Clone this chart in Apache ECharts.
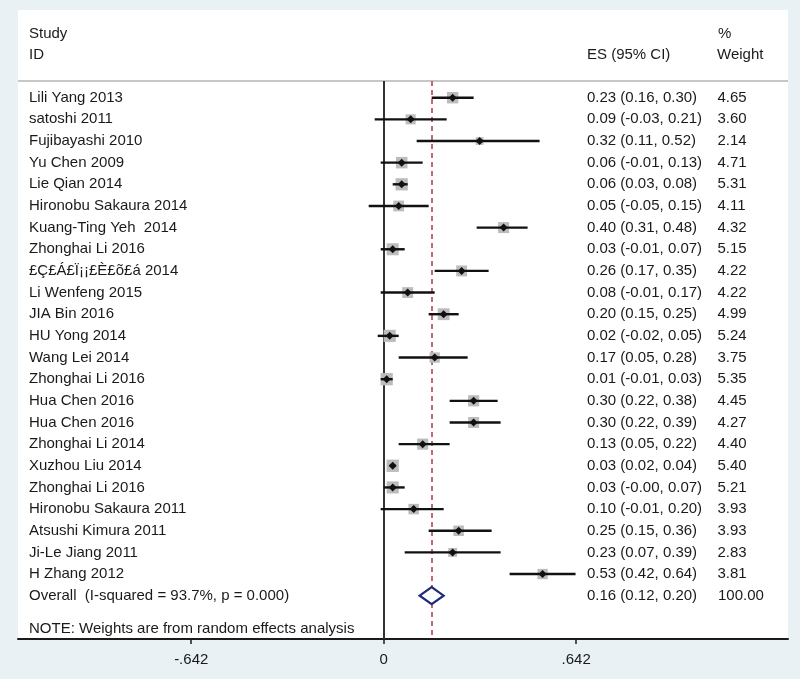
<!DOCTYPE html>
<html><head><meta charset="utf-8">
<script src="https://cdn.jsdelivr.net/npm/echarts@6/dist/echarts.min.js"></script>
<style>html,body{margin:0;padding:0;background:#e9f1f5}#c{width:800px;height:679px}</style>
</head><body><div id="c"></div>
<script>
const studies = ['Lili Yang 2013','satoshi 2011','Fujibayashi 2010','Yu Chen 2009','Lie Qian 2014','Hironobu Sakaura 2014','Kuang-Ting Yeh  2014','Zhonghai Li 2016','£Ç£Á£Ï¡¡£È£õ£á 2014','Li Wenfeng 2015','JIA Bin 2016','HU Yong 2014','Wang Lei 2014','Zhonghai Li 2016','Hua Chen 2016','Hua Chen 2016','Zhonghai Li 2014','Xuzhou Liu 2014','Zhonghai Li 2016','Hironobu Sakaura 2011','Atsushi Kimura 2011','Ji-Le Jiang 2011','H Zhang 2012'];
const es = [0.23,0.09,0.32,0.06,0.06,0.05,0.40,0.03,0.26,0.08,0.20,0.02,0.17,0.01,0.30,0.30,0.13,0.03,0.03,0.10,0.25,0.23,0.53];
const ciLow = [0.16,-0.03,0.11,-0.01,0.03,-0.05,0.31,-0.01,0.17,-0.01,0.15,-0.02,0.05,-0.01,0.22,0.22,0.05,0.02,-0.00,-0.01,0.15,0.07,0.42];
const ciHigh = [0.30,0.21,0.52,0.13,0.08,0.15,0.48,0.07,0.35,0.17,0.25,0.05,0.28,0.03,0.38,0.39,0.22,0.04,0.07,0.20,0.36,0.39,0.64];
const esText = ['0.23 (0.16, 0.30)','0.09 (-0.03, 0.21)','0.32 (0.11, 0.52)','0.06 (-0.01, 0.13)','0.06 (0.03, 0.08)','0.05 (-0.05, 0.15)','0.40 (0.31, 0.48)','0.03 (-0.01, 0.07)','0.26 (0.17, 0.35)','0.08 (-0.01, 0.17)','0.20 (0.15, 0.25)','0.02 (-0.02, 0.05)','0.17 (0.05, 0.28)','0.01 (-0.01, 0.03)','0.30 (0.22, 0.38)','0.30 (0.22, 0.39)','0.13 (0.05, 0.22)','0.03 (0.02, 0.04)','0.03 (-0.00, 0.07)','0.10 (-0.01, 0.20)','0.25 (0.15, 0.36)','0.23 (0.07, 0.39)','0.53 (0.42, 0.64)'];
const weights = [4.65,3.60,2.14,4.71,5.31,4.11,4.32,5.15,4.22,4.22,4.99,5.24,3.75,5.35,4.45,4.27,4.40,5.40,5.21,3.93,3.93,2.83,3.81];
const overallLabel = 'Overall  (I-squared = 93.7%, p = 0.000)';
const overallES = 0.16, overallLow = 0.12, overallHigh = 0.20;
const overallText = '0.16 (0.12, 0.20)';
const overallWeight = '100.00';
const tickValues = [-0.642, 0, 0.642];
const tickLabels = ['-.642', '0', '.642'];
const noteText = 'NOTE: Weights are from random effects analysis';
const headers = {study: 'Study', id: 'ID', es: 'ES (95% CI)', pct: '%', weight: 'Weight'};

const FONT = '15px "Liberation Sans", Arial, sans-serif';
const TXT = '#1a1a1a';
const nRows = studies.length;

const rows = studies.map((s, i) => [i, es[i], ciLow[i], ciHigh[i], weights[i]]);
const textRows = studies.map((s, i) => [i, s, esText[i], weights[i].toFixed(2)]);
textRows.push([nRows, overallLabel, overallText, overallWeight]);

function txt(x, y, t) {
  return {type: 'text', x: x, y: y, style: {text: t, font: FONT, fill: TXT, textAlign: 'left', textVerticalAlign: 'middle', align: 'left', verticalAlign: 'middle'}};
}

const chart = echarts.init(document.getElementById('c'));
chart.setOption({
  animation: false,
  backgroundColor: '#e9f1f5',
  grid: {left: 18, right: 12, top: 81, bottom: 40},
  xAxis: {
    type: 'value', min: -1.2198, max: 1.3486,
    axisLine: {show: true, onZero: false, lineStyle: {color: '#1a1a1a', width: 2}},
    axisTick: {show: true, customValues: tickValues, length: 5, lineStyle: {color: '#1a1a1a', width: 1.5}},
    axisLabel: {customValues: tickValues, margin: 13, fontSize: 15, fontFamily: '"Liberation Sans", Arial', color: TXT,
      formatter: v => { let k = 0; tickValues.forEach((t, j) => { if (Math.abs(t - v) < Math.abs(tickValues[k] - v)) k = j; }); return tickLabels[k]; }},
    splitLine: {show: false}
  },
  yAxis: {type: 'value', inverse: true, min: -0.771, max: 25.0, show: false},
  graphic: [
    {type: 'rect', z: -10, shape: {x: 18, y: 10, width: 770, height: 629}, style: {fill: '#fff'}},
    {type: 'line', z: 1, shape: {x1: 18, y1: 81, x2: 788, y2: 81}, style: {stroke: '#b4b4b4', lineWidth: 1.5}},
    Object.assign(txt(29, 33.5, headers.study), {z: 5}),
    Object.assign(txt(29, 54.5, headers.id), {z: 5}),
    Object.assign(txt(587, 55, headers.es), {z: 5}),
    Object.assign(txt(718, 33.5, headers.pct), {z: 5}),
    Object.assign(txt(717, 55, headers.weight), {z: 5})
  ],
  series: [
    {
      type: 'custom', z: 3,
      data: rows,
      encode: {x: [1, 2, 3], y: 0},
      renderItem: function (params, api) {
        const i = api.value(0);
        const c = api.coord([api.value(1), i]);
        const l = api.coord([api.value(2), i]);
        const h = api.coord([api.value(3), i]);
        const side = 5.3 * Math.sqrt(api.value(4));
        const d = 4;
        return {type: 'group', children: [
          {type: 'rect', shape: {x: c[0] - side / 2, y: c[1] - side / 2, width: side, height: side}, style: {fill: '#bcbcbc'}},
          {type: 'line', shape: {x1: l[0], y1: l[1], x2: h[0], y2: h[1]}, style: {stroke: '#111', lineWidth: 2.4}},
          {type: 'polygon', shape: {points: [[c[0] - d, c[1]], [c[0], c[1] - d], [c[0] + d, c[1]], [c[0], c[1] + d]]}, style: {fill: '#111'}}
        ]};
      },
      markLine: {
        silent: true, symbol: ['none', 'none'], label: {show: false}, z: 2,
        data: [
          {xAxis: 0, lineStyle: {color: '#333', width: 2, type: 'solid'}},
          {xAxis: overallES, lineStyle: {color: '#b8434f', width: 1.6, type: [5, 4]}}
        ]
      }
    },
    {
      type: 'custom', z: 4,
      data: [[nRows, overallES, overallLow, overallHigh]],
      encode: {x: [1, 2, 3], y: 0},
      renderItem: function (params, api) {
        const i = api.value(0);
        const c = api.coord([api.value(1), i]);
        const l = api.coord([api.value(2), i]);
        const h = api.coord([api.value(3), i]);
        const hh = 8.5;
        return {type: 'polygon', shape: {points: [[l[0], c[1]], [c[0], c[1] - hh], [h[0], c[1]], [c[0], c[1] + hh]]},
          style: {fill: '#fff', stroke: '#1e2a7c', lineWidth: 2.2}};
      }
    },
    {
      type: 'custom', z: 5,
      data: textRows,
      encode: {y: 0},
      renderItem: function (params, api) {
        const r = textRows[params.dataIndex];
        const y = api.coord([0, r[0]])[1];
        return {type: 'group', children: [txt(29, y, r[1]), txt(587, y, r[2]), txt(r[0] === nRows ? 718 : 717.5, y, r[3])]};
      }
    },
    {
      type: 'custom', z: 5,
      data: [[nRows + 1.55]],
      encode: {y: 0},
      renderItem: function (params, api) {
        const y = api.coord([0, api.value(0)])[1];
        return txt(29, y, noteText);
      }
    }
  ]
});
</script></body></html>
